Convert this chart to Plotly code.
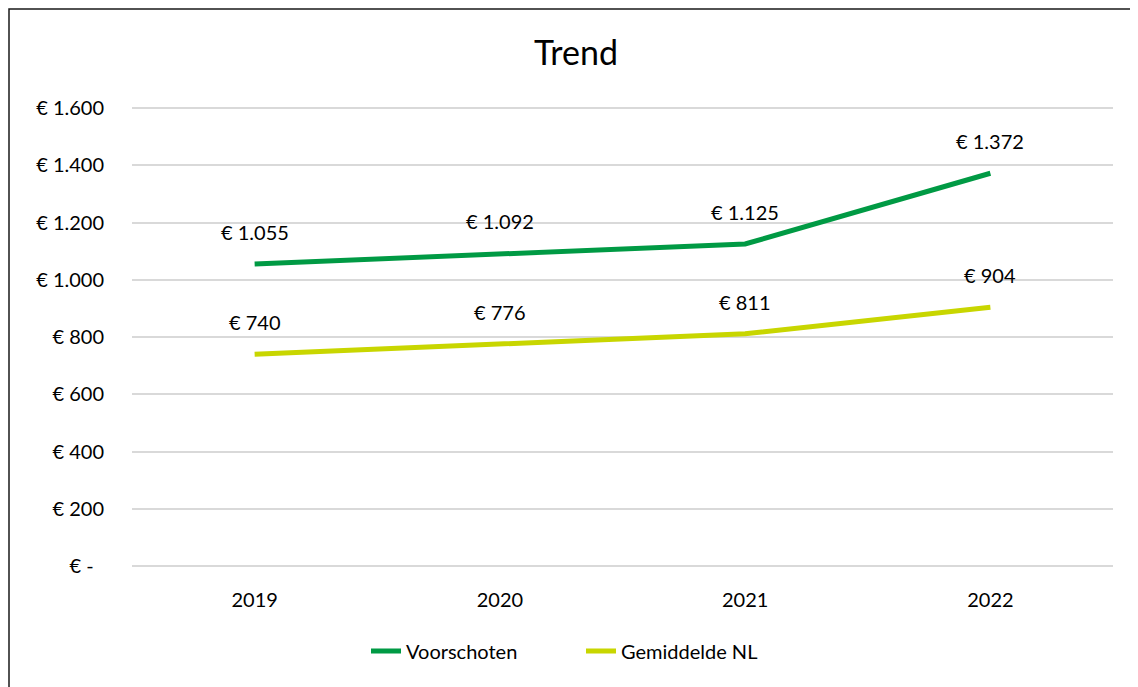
import plotly.graph_objects as go

years = ["2019", "2020", "2021", "2022"]
voorschoten = [1055, 1092, 1125, 1372]
gemiddelde_nl = [740, 776, 811, 904]
y_ticks = [0, 200, 400, 600, 800, 1000, 1200, 1400, 1600]
y_ticktext = ["€ -\u00a0\u00a0", "€ 200", "€ 400", "€ 600", "€ 800",
              "€ 1.000", "€ 1.200", "€ 1.400", "€ 1.600"]

def eur(v):
    return "€ " + f"{v:,}".replace(",", ".")

GREEN = "#009A44"
LIME = "#C8D600"
FONT = "Lato"

fig = go.Figure()
fig.add_trace(go.Scatter(x=years, y=voorschoten, mode="lines", name="Voorschoten",
                         line=dict(color=GREEN, width=5)))
fig.add_trace(go.Scatter(x=years, y=gemiddelde_nl, mode="lines", name="Gemiddelde NL",
                         line=dict(color=LIME, width=5)))

annotations = []
for series in (voorschoten, gemiddelde_nl):
    for i, v in enumerate(series):
        annotations.append(dict(x=i, y=v, text=eur(v), showarrow=False,
                                xref="x", yref="y", yshift=32,
                                font=dict(family=FONT, size=20, color="#000000")))

# page body has an 8px margin; figure placed at (8, 8) in the window
OFF = 8
EXT = 6  # extra px above/below the outer gridlines so they stay visible
W, H = 1138 - OFF, 687 - OFF
L, R, T, B = 132 - OFF, 25, 108 - OFF - EXT, 121 - EXT
pw, ph = W - L - R, H - T - B
units_per_px = 1600 / (ph - 2 * EXT)
ext_units = EXT * units_per_px

def px_to_paper_x(px):
    return (px - OFF - L) / pw

def px_to_paper_y(py):
    return (H - B - (py - OFF)) / ph

fig.update_layout(
    width=W, height=H,
    margin=dict(l=L, r=R, t=T, b=B, pad=0),
    paper_bgcolor="white", plot_bgcolor="white",
    font=dict(family=FONT, size=20, color="#000000"),
    title=dict(text="Trend", x=px_to_paper_x(576), xref="paper", xanchor="center",
               y=1 - (53 - OFF) / H, yref="container", yanchor="middle",
               font=dict(family=FONT, size=34, color="#000000")),
    showlegend=True,
    legend=dict(orientation="h", x=px_to_paper_x(581), xanchor="center",
                y=px_to_paper_y(651), yanchor="middle",
                font=dict(family=FONT, size=20, color="#000000"),
                bgcolor="rgba(0,0,0,0)", entrywidth=170, entrywidthmode="pixels"),
    xaxis=dict(type="category", range=[-0.5, 3.5], showgrid=False, zeroline=False,
               showline=False, ticks="", ticklabelstandoff=20 - EXT,
               tickfont=dict(family=FONT, size=20, color="#000000"), fixedrange=True),
    yaxis=dict(range=[-ext_units, 1600 + ext_units], tickvals=y_ticks, ticktext=y_ticktext,
               showgrid=True, gridcolor="#D9D9D9", gridwidth=1.5, zeroline=False,
               showline=False, ticks="", ticklabelstandoff=27,
               tickfont=dict(family=FONT, size=20, color="#000000"), fixedrange=True),
    annotations=annotations,
    shapes=[dict(type="rect", xref="paper", yref="paper",
                 x0=px_to_paper_x(9), x1=px_to_paper_x(1160),
                 y0=px_to_paper_y(710), y1=px_to_paper_y(9),
                 line=dict(color="#1a1a1a", width=1.5), fillcolor="rgba(0,0,0,0)",
                 layer="above")],
)

fig.write_html("out.html")
